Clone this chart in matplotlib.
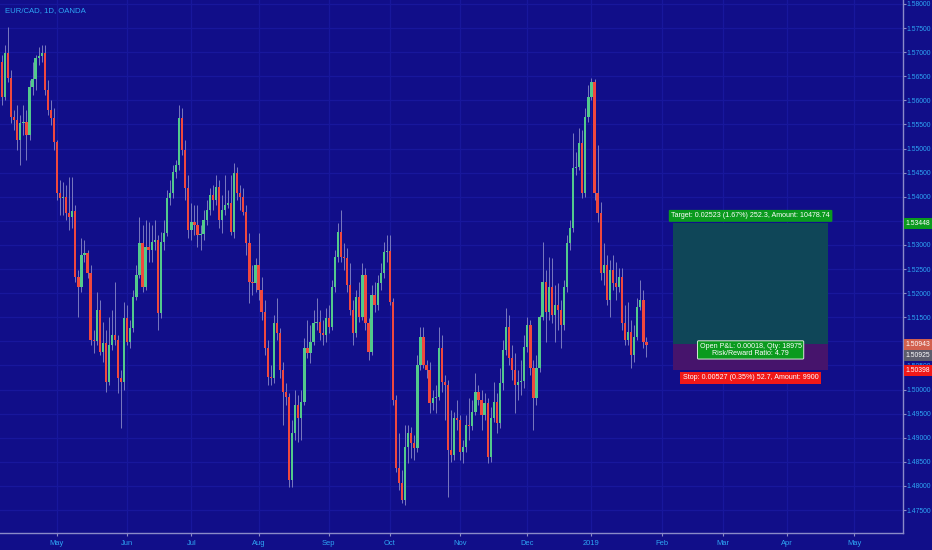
import matplotlib
matplotlib.use("Agg")
import matplotlib.pyplot as plt
import matplotlib.transforms as mtransforms
from matplotlib.patches import Rectangle
import numpy as np
import pandas as pd

plt.rcParams["font.family"] = ["Liberation Sans", "DejaVu Sans"]

# EUR/CAD daily candles, 2018-04-05 .. 2019-01-25
first_day = "2018-04-05"

opens = [
    1.56796, 1.56070, 1.56983, 1.56464, 1.55655, 1.55593, 1.55178, 1.55531, 1.55551, 1.55282,
    1.56278, 1.56444, 1.56879, 1.56921, 1.56983, 1.56215, 1.55800, 1.55634, 1.55136, 1.54078,
    1.53974, 1.53995, 1.53663, 1.53580, 1.53705, 1.52335, 1.52127, 1.52792, 1.52833, 1.52418,
    1.51028, 1.51007, 1.51650, 1.50779, 1.50965, 1.50156, 1.50924, 1.51131, 1.51028, 1.50239,
    1.50156, 1.51484, 1.50986, 1.51277, 1.51920, 1.52377, 1.53041, 1.52127, 1.52958, 1.52895,
    1.53061, 1.53103, 1.51588, 1.53061, 1.53248, 1.53974, 1.54078, 1.54514, 1.54659, 1.55634,
    1.54970, 1.54182, 1.53310, 1.53476, 1.53414, 1.53207, 1.53227, 1.53518, 1.53725, 1.54037,
    1.53933, 1.54203, 1.53518, 1.53725, 1.53829, 1.53871, 1.53269, 1.54493, 1.54078, 1.53995,
    1.53684, 1.53041, 1.52231, 1.52210, 1.52584, 1.52065, 1.51609, 1.50862, 1.50260, 1.50239,
    1.51380, 1.51173, 1.50405, 1.49949, 1.49845, 1.48123, 1.49098, 1.49679, 1.49409, 1.49741,
    1.50862, 1.50758, 1.50986, 1.51380, 1.51401, 1.51173, 1.51131, 1.51484, 1.51297, 1.52127,
    1.52750, 1.53269, 1.52750, 1.52729, 1.52169, 1.51650, 1.51173, 1.51920, 1.51505, 1.52377,
    1.51380, 1.50779, 1.51961, 1.51754, 1.52210, 1.52418, 1.52854, 1.52875, 1.51816, 1.49783,
    1.48372, 1.48060, 1.47708, 1.48807, 1.49098, 1.48890, 1.48787, 1.50509, 1.51090, 1.50509,
    1.50405, 1.49720, 1.49824, 1.49845, 1.50862, 1.50156, 1.50094, 1.48745, 1.48641, 1.49409,
    1.49368, 1.48704, 1.48807, 1.49264, 1.49243, 1.49534, 1.49949, 1.49783, 1.49471, 1.49720,
    1.48600, 1.49409, 1.49741, 1.49305, 1.50135, 1.50820, 1.51297, 1.50654, 1.50405, 1.50094,
    1.50156, 1.50177, 1.50882, 1.51339, 1.50447, 1.49824, 1.50447, 1.51505, 1.52231, 1.51609,
    1.52127, 1.51546, 1.51754, 1.51650, 1.51339, 1.52127, 1.53041, 1.53352, 1.54597, 1.54618,
    1.55116, 1.54078, 1.55655, 1.56070, 1.56381, 1.54078, 1.53663, 1.52418, 1.52584, 1.51858,
    1.52480, 1.52210, 1.52127, 1.52335, 1.51380, 1.51028, 1.51194, 1.50716, 1.51090, 1.51712,
    1.51858, 1.50986,
]

highs = [
    1.56942, 1.57149, 1.57523, 1.56630, 1.55800, 1.55904, 1.55697, 1.55904, 1.55800, 1.56423,
    1.56796, 1.56942, 1.57108, 1.57149, 1.57149, 1.56423, 1.56008, 1.55842, 1.55178, 1.54348,
    1.54306, 1.54244, 1.54410, 1.54410, 1.53829, 1.52480, 1.53144, 1.53103, 1.52895, 1.52584,
    1.51235, 1.52024, 1.51858, 1.51401, 1.51235, 1.51505, 1.51650, 1.52231, 1.51131, 1.50405,
    1.51816, 1.51754, 1.51443, 1.52065, 1.52584, 1.53580, 1.53414, 1.53518, 1.53476, 1.53414,
    1.53518, 1.53207, 1.53269, 1.53518, 1.54140, 1.54348, 1.54659, 1.54763, 1.55904, 1.55842,
    1.55178, 1.54452, 1.53871, 1.53829, 1.53829, 1.53414, 1.53725, 1.53933, 1.54182, 1.54244,
    1.54452, 1.54348, 1.54037, 1.54452, 1.54140, 1.54452, 1.54701, 1.54618, 1.54244, 1.54182,
    1.53829, 1.53248, 1.52584, 1.52729, 1.53248, 1.52335, 1.51858, 1.51028, 1.50509, 1.51546,
    1.51899, 1.51277, 1.50571, 1.50135, 1.49928, 1.49368, 1.49990, 1.49886, 1.49990, 1.51069,
    1.51443, 1.51339, 1.51650, 1.51899, 1.51650, 1.51443, 1.51692, 1.51754, 1.52273, 1.52895,
    1.53456, 1.53725, 1.53041, 1.52937, 1.52626, 1.51858, 1.52065, 1.52231, 1.52626, 1.52522,
    1.51484, 1.52169, 1.52231, 1.52377, 1.52626, 1.53061, 1.53207, 1.53207, 1.51899, 1.49886,
    1.49098, 1.48330, 1.49264, 1.49264, 1.49222, 1.49056, 1.50716, 1.51297, 1.51297, 1.50613,
    1.50571, 1.49990, 1.50094, 1.51297, 1.51131, 1.50301, 1.50198, 1.49575, 1.49534, 1.49783,
    1.49471, 1.48953, 1.49471, 1.49824, 1.49783, 1.50343, 1.50094, 1.49990, 1.49928, 1.49824,
    1.49637, 1.50156, 1.49928, 1.50447, 1.51028, 1.51692, 1.51546, 1.50924, 1.50758, 1.50405,
    1.50613, 1.51131, 1.51505, 1.51443, 1.50613, 1.50716, 1.51546, 1.53061, 1.52480, 1.52750,
    1.52729, 1.52169, 1.52210, 1.51858, 1.52273, 1.53207, 1.53518, 1.55323, 1.54929, 1.55427,
    1.55385, 1.55842, 1.56319, 1.56464, 1.56444, 1.55074, 1.53891, 1.53041, 1.52792, 1.52688,
    1.52792, 1.52646, 1.52522, 1.52522, 1.51754, 1.51816, 1.51443, 1.51339, 1.51899, 1.52273,
    1.52065, 1.51090,
]

lows = [
    1.55904, 1.56008, 1.56381, 1.55531, 1.55385, 1.54970, 1.54659, 1.55282, 1.54763, 1.55178,
    1.56112, 1.56215, 1.56734, 1.56796, 1.56112, 1.55697, 1.55489, 1.54970, 1.53933, 1.53622,
    1.53622, 1.53518, 1.53310, 1.53352, 1.52231, 1.51505, 1.52024, 1.52646, 1.52314, 1.50924,
    1.50758, 1.50924, 1.50716, 1.50571, 1.49949, 1.50094, 1.50820, 1.50924, 1.49928, 1.49202,
    1.49990, 1.50924, 1.50862, 1.51194, 1.51858, 1.52314, 1.52024, 1.52065, 1.52646, 1.52646,
    1.52895, 1.51235, 1.51484, 1.52895, 1.53186, 1.53829, 1.53974, 1.54389, 1.54555, 1.54867,
    1.53933, 1.53144, 1.53103, 1.53207, 1.52958, 1.52895, 1.53103, 1.53414, 1.53622, 1.53725,
    1.53829, 1.53352, 1.53248, 1.53622, 1.53767, 1.53207, 1.53144, 1.53933, 1.53725, 1.53622,
    1.52792, 1.51795, 1.51961, 1.52024, 1.51858, 1.51443, 1.50716, 1.50094, 1.50094, 1.50135,
    1.51028, 1.50239, 1.49264, 1.49679, 1.47977, 1.47977, 1.48953, 1.48911, 1.48953, 1.49679,
    1.50654, 1.50550, 1.50924, 1.51235, 1.51028, 1.50924, 1.50986, 1.51173, 1.51235, 1.52024,
    1.52646, 1.52646, 1.52480, 1.52024, 1.51546, 1.50924, 1.51090, 1.51401, 1.51443, 1.51235,
    1.50613, 1.50716, 1.51609, 1.51650, 1.52065, 1.52314, 1.52646, 1.51754, 1.49679, 1.48289,
    1.47915, 1.47645, 1.47604, 1.48475, 1.48579, 1.48538, 1.48704, 1.50405, 1.50447, 1.50239,
    1.49513, 1.49575, 1.49513, 1.49783, 1.49949, 1.49368, 1.47770, 1.48496, 1.48538, 1.49160,
    1.48538, 1.48475, 1.48704, 1.48953, 1.49160, 1.49471, 1.49679, 1.49160, 1.49368, 1.48475,
    1.48496, 1.49326, 1.49098, 1.49202, 1.49990, 1.50716, 1.50509, 1.50198, 1.49513, 1.49783,
    1.49886, 1.50032, 1.50779, 1.50301, 1.49160, 1.49679, 1.50364, 1.51443, 1.50986, 1.51443,
    1.51380, 1.50986, 1.51235, 1.50862, 1.51235, 1.52024, 1.52895, 1.53269, 1.54452, 1.54555,
    1.53974, 1.53995, 1.55551, 1.56008, 1.53933, 1.53476, 1.52273, 1.52169, 1.51754, 1.51505,
    1.52065, 1.51858, 1.52024, 1.51235, 1.50924, 1.50924, 1.50447, 1.50571, 1.51028, 1.51650,
    1.50862, 1.50675,
]

closes = [
    1.56070, 1.56983, 1.56464, 1.55655, 1.55593, 1.55178, 1.55531, 1.55551, 1.55282, 1.56278,
    1.56444, 1.56879, 1.56921, 1.56983, 1.56215, 1.55800, 1.55634, 1.55136, 1.54078, 1.53974,
    1.53995, 1.53663, 1.53580, 1.53705, 1.52335, 1.52127, 1.52792, 1.52833, 1.52418, 1.51028,
    1.51007, 1.51650, 1.50779, 1.50965, 1.50156, 1.50924, 1.51131, 1.51028, 1.50239, 1.50156,
    1.51484, 1.50986, 1.51277, 1.51920, 1.52377, 1.53041, 1.52127, 1.52958, 1.52895, 1.53061,
    1.53103, 1.51588, 1.53061, 1.53248, 1.53974, 1.54078, 1.54514, 1.54659, 1.55634, 1.54970,
    1.54182, 1.53310, 1.53476, 1.53414, 1.53207, 1.53227, 1.53518, 1.53725, 1.54037, 1.53933,
    1.54203, 1.53518, 1.53725, 1.53829, 1.53871, 1.53269, 1.54493, 1.54078, 1.53995, 1.53684,
    1.53041, 1.52231, 1.52210, 1.52584, 1.52065, 1.51609, 1.50862, 1.50260, 1.50239, 1.51380,
    1.51173, 1.50405, 1.49949, 1.49845, 1.48123, 1.49098, 1.49679, 1.49409, 1.49741, 1.50862,
    1.50758, 1.50986, 1.51380, 1.51401, 1.51173, 1.51131, 1.51484, 1.51297, 1.52127, 1.52750,
    1.53269, 1.52750, 1.52729, 1.52169, 1.51650, 1.51173, 1.51920, 1.51505, 1.52377, 1.51380,
    1.50779, 1.51961, 1.51754, 1.52210, 1.52418, 1.52854, 1.52875, 1.51816, 1.49783, 1.48372,
    1.48060, 1.47708, 1.48807, 1.49098, 1.48890, 1.48787, 1.50509, 1.51090, 1.50509, 1.50405,
    1.49720, 1.49824, 1.49845, 1.50862, 1.50156, 1.50094, 1.48745, 1.48641, 1.49409, 1.49368,
    1.48704, 1.48807, 1.49264, 1.49243, 1.49534, 1.49949, 1.49783, 1.49471, 1.49720, 1.48600,
    1.49409, 1.49741, 1.49305, 1.50135, 1.50820, 1.51297, 1.50654, 1.50405, 1.50094, 1.50156,
    1.50177, 1.50882, 1.51339, 1.50447, 1.49824, 1.50447, 1.51505, 1.52231, 1.51609, 1.52127,
    1.51546, 1.51754, 1.51650, 1.51339, 1.52127, 1.53041, 1.53352, 1.54597, 1.54618, 1.55116,
    1.54078, 1.55655, 1.56070, 1.56381, 1.54078, 1.53663, 1.52418, 1.52584, 1.51858, 1.52480,
    1.52210, 1.52127, 1.52335, 1.51380, 1.51028, 1.51194, 1.50716, 1.51090, 1.51712, 1.51858,
    1.50986, 1.50925,
]

# long position tool
entry_price = 1.50943
target_price = 1.53448
stop_price = 1.50398
last_price = 1.50925
target_text = "Target: 0.02523 (1.67%) 252.3, Amount: 10478.74"
pnl_text = "Open P&L: 0.00018, Qty: 18975\nRisk/Reward Ratio: 4.79"
stop_text = "Stop: 0.00527 (0.35%) 52.7, Amount: 9900"

BG = "#110e89"
GRID = "#18179c"
AXIS = "#8a8ac8"
TXT = "#2ea6f5"
UP = "#52c98c"
DOWN = "#f0483e"
WICK = "#7a7abf"


def month_ticks(days):
    pos, lab = [], []
    prev = None
    for i, d in enumerate(days):
        if prev is not None and d.month != prev and d >= pd.Timestamp("2018-05-01"):
            pos.append(i)
            lab.append(str(d.year) if d.month == 1 else d.strftime("%b"))
        prev = d.month
    return pos, lab


def main():
    o = np.array(opens)
    h = np.array(highs)
    l = np.array(lows)
    c = np.array(closes)
    x = np.arange(len(c))

    fig = plt.figure(figsize=(9.32, 5.5), dpi=100, facecolor=BG)
    ax = fig.add_axes([0, 17 / 550, 903 / 932, 533 / 550])
    ax.set_facecolor(BG)

    up = c >= o
    colors = np.where(up, UP, DOWN)
    ax.vlines(x, l, h, color=WICK, lw=0.7, zorder=2)
    body_low = np.minimum(o, c)
    body_h = np.maximum(np.abs(c - o), 0.00006)
    ax.bar(x, body_h, bottom=body_low, width=0.74, color=colors, linewidth=0, zorder=3)

    # position tool box
    x0, x1 = 219.7, 270.5
    ax.add_patch(Rectangle((x0, entry_price), x1 - x0, target_price - entry_price,
                           facecolor="#0f4658", edgecolor="none", zorder=4))
    ax.add_patch(Rectangle((x0, stop_price), x1 - x0, entry_price - stop_price,
                           facecolor="#46146c", edgecolor="none", zorder=4))
    xc = (x0 + x1) / 2
    ax.annotate(target_text, (xc, target_price), xytext=(0, 5.4), textcoords="offset points",
                ha="center", va="center", fontsize=5.1, color="white", zorder=6,
                bbox=dict(boxstyle="round,pad=0.35,rounding_size=0.15", fc="#0a9a1e", ec="none"))
    ax.annotate(pnl_text, (xc, entry_price), xytext=(0, -4.2), textcoords="offset points",
                ha="center", va="center", fontsize=5.1, color="white", zorder=6, linespacing=1.0,
                bbox=dict(boxstyle="round,pad=0.3,rounding_size=0.15", fc="#0a9a1e", ec="#d8e8d8", lw=0.7))
    ax.annotate(stop_text, (xc, stop_price), xytext=(0, -5.4), textcoords="offset points",
                ha="center", va="center", fontsize=5.1, color="white", zorder=6,
                bbox=dict(boxstyle="square,pad=0.35", fc="#f01818", ec="none"))

    # axes
    days = pd.bdate_range(first_day, "2019-05-31")
    pos, lab = month_ticks(days)
    ax.set_xticks(pos)
    ax.set_xticklabels(lab)
    yt = np.arange(1.475, 1.5801, 0.005)
    ax.set_yticks(yt)
    ax.set_yticklabels(["%.5f" % v for v in yt])
    ax.set_xlim(-0.66, 295.0)
    ax.set_ylim(1.47023, 1.58083)
    ax.yaxis.tick_right()
    ax.tick_params(axis="both", colors=AXIS, labelcolor=TXT, length=2.2, width=0.8)
    ax.tick_params(axis="y", pad=0.6, labelsize=4.9)
    ax.tick_params(axis="x", pad=3, labelsize=5.4)
    ax.grid(True, color=GRID, lw=0.9, zorder=0)
    ax.set_axisbelow(True)
    for side in ("top", "left"):
        ax.spines[side].set_visible(False)
    for side in ("right", "bottom"):
        ax.spines[side].set_color(AXIS)
        ax.spines[side].set_linewidth(1.0)

    # price labels on the scale
    trans = mtransforms.blended_transform_factory(ax.transAxes, ax.transData)
    tags = [(target_price, "%.5f" % target_price, "#0a9a1e", 0),
            (entry_price, "%.5f" % entry_price, "#d2604e", 0),
            (last_price, "%.5f" % last_price, "#5c5c6c", -7.5),
            (stop_price, "%.5f" % stop_price, "#f01818", 0)]
    for price, txt, fc, dy in tags:
        ax.annotate(txt, (1.0, price), xycoords=trans, xytext=(2.0, dy), textcoords="offset points",
                    ha="left", va="center", fontsize=4.9, color="white", zorder=7,
                    annotation_clip=False,
                    bbox=dict(boxstyle="square,pad=0.3", fc=fc, ec="none"))

    fig.text(5 / 932, 1 - 11 / 550, "EUR/CAD, 1D, OANDA", color=TXT, fontsize=5.6,
             ha="left", va="center")

    fig.savefig("out.png", dpi=100, facecolor=BG)


if __name__ == "__main__":
    main()
